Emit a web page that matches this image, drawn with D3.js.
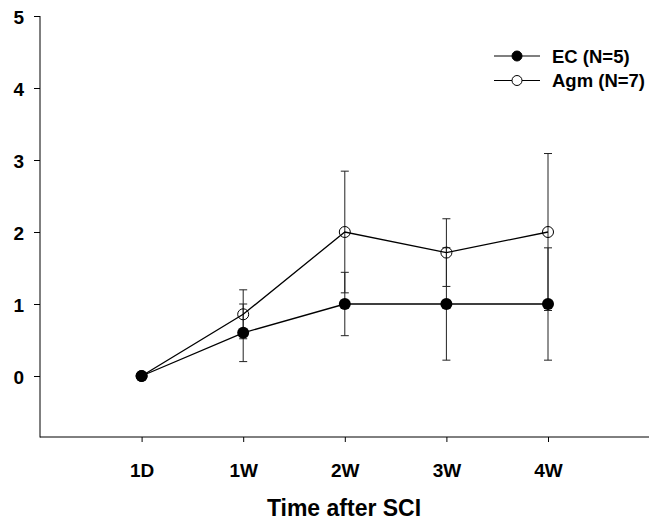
<!DOCTYPE html>
<html>
<head>
<meta charset="utf-8">
<script src="https://cdn.jsdelivr.net/npm/d3@7"></script>
<style>
  body { margin: 0; background: #fff; }
  text { font-family: "Liberation Sans", Arial, sans-serif; font-weight: bold; }
</style>
</head>
<body>
<div class="content"></div>
<script>
const width = 649
const height = 521

// data
const times = ['1D', '1W', '2W', '3W', '4W']
const ecMean = [0, 0.6, 1.0, 1.0, 1.0]
const ecErr = [0, 0.4, 0.44, 0.78, 0.78]
const agmMean = [0, 0.857, 2.0, 1.714, 2.0]
const agmErr = [0, 0.34, 0.845, 0.47, 1.09]
const yTicks = [0, 1, 2, 3, 4, 5]

const left = 40
const bottom = 437

const x = d3.scaleLinear().domain([0, 6]).range([left, left + 6 * 101.6])
const y = d3.scaleLinear().domain([0, 5]).range([376, 16])

const svg = d3.select('div.content')
    .append('svg')
    .attr('width', width)
    .attr('height', height)

// axes
const yAxis = svg.append('g')
    .attr('transform', `translate(${left},0)`)
    .call(d3.axisLeft(y).tickValues(yTicks).tickSize(6).tickFormat(d3.format('d')))
yAxis.select('.domain').remove()
yAxis.append('line')
    .attr('x1', 0).attr('x2', 0)
    .attr('y1', y(5)).attr('y2', bottom + 0.5)
    .attr('stroke', '#000')
yAxis.selectAll('text')
    .attr('font-size', 19).attr('fill', '#000')
    .attr('x', -16).attr('dy', 7)

const xAxis = svg.append('g')
    .attr('transform', `translate(0,${bottom})`)
    .call(d3.axisBottom(x).tickValues([1, 2, 3, 4, 5]).tickSize(5)
        .tickFormat((d, i) => times[i]))
xAxis.select('.domain').remove()
xAxis.append('line')
    .attr('x1', left).attr('x2', width)
    .attr('y1', 0).attr('y2', 0)
    .attr('stroke', '#000')
xAxis.selectAll('text')
    .attr('font-size', 19).attr('fill', '#000')
    .attr('y', 40).attr('dy', 0)

svg.append('text')
    .attr('x', 344)
    .attr('y', 516)
    .attr('text-anchor', 'middle')
    .attr('font-size', 23)
    .text('Time after SCI')

// error bars
function errorBars(means, errs) {
    const g = svg.append('g').attr('stroke', '#222').attr('stroke-width', 1)
    means.forEach((m, i) => {
        if (errs[i] === 0) return
        const cx = x(i + 1)
        g.append('line').attr('x1', cx).attr('x2', cx)
            .attr('y1', y(m - errs[i])).attr('y2', y(m + errs[i]))
        ;[m - errs[i], m + errs[i]].forEach(v => {
            g.append('line').attr('x1', cx - 4).attr('x2', cx + 4)
                .attr('y1', y(v)).attr('y2', y(v))
        })
    })
}
errorBars(ecMean, ecErr)
errorBars(agmMean, agmErr)

const line = d3.line().x((d, i) => x(i + 1)).y(d => y(d))

svg.append('path').datum(agmMean)
    .attr('d', line).attr('fill', 'none').attr('stroke', '#000').attr('stroke-width', 1.3)
svg.append('path').datum(ecMean)
    .attr('d', line).attr('fill', 'none').attr('stroke', '#000').attr('stroke-width', 1.3)

svg.append('g').selectAll('circle').data(agmMean).join('circle')
    .attr('cx', (d, i) => x(i + 1)).attr('cy', d => y(d)).attr('r', 5.5)
    .attr('fill', 'none').attr('stroke', '#000').attr('stroke-width', 1)
svg.append('g').selectAll('circle').data(ecMean).join('circle')
    .attr('cx', (d, i) => x(i + 1)).attr('cy', d => y(d)).attr('r', 6)
    .attr('fill', '#000')

// legend
const legend = svg.append('g')
const items = [
    {label: 'EC (N=5)', filled: true, yy: 56},
    {label: 'Agm (N=7)', filled: false, yy: 80.5}
]
items.forEach(it => {
    legend.append('line').attr('x1', 494).attr('x2', 540)
        .attr('y1', it.yy).attr('y2', it.yy).attr('stroke', '#000').attr('stroke-width', 1.2)
    legend.append('circle').attr('cx', 517).attr('cy', it.yy).attr('r', 5)
        .attr('fill', it.filled ? '#000' : '#fff').attr('stroke', '#000')
    legend.append('text').attr('x', 552).attr('y', it.yy + 6.5)
        .attr('font-size', 18.5).text(it.label)
})
</script>
</body>
</html>
